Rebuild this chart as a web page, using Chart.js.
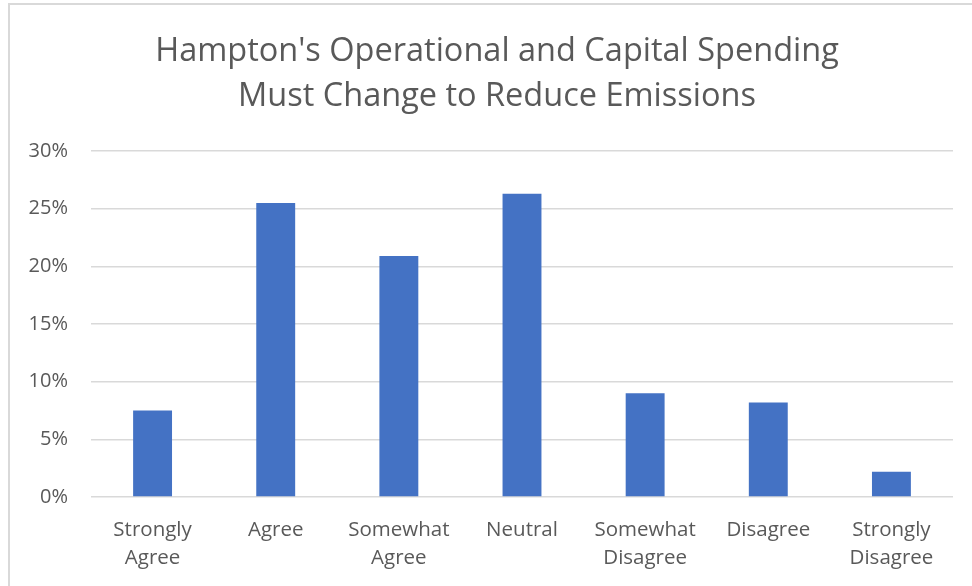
<!DOCTYPE html>
<html>
<head>
<meta charset="utf-8">
<script src="https://cdn.jsdelivr.net/npm/chart.js@4/dist/chart.umd.min.js"></script>
<style>
  html, body { margin: 0; padding: 0; background: #ffffff; }
  #wrap { position: relative; width: 972px; height: 586px; overflow: hidden; }
  #frame { position: absolute; left: 8px; top: 3px; width: 1200px; height: 800px;
           border-top: 2px solid #d9d9d9; border-left: 2px solid #d9d9d9; box-sizing: border-box; }
  canvas { position: absolute; left: 0; top: 0; }
</style>
</head>
<body>
<div id="wrap">
  <div id="frame"></div>
  <canvas id="c" width="972" height="586"></canvas>
</div>
<script>
const titleLines = ["Hampton's Operational and Capital Spending", "Must Change to Reduce Emissions"];
const categories = [["Strongly", "Agree"], "Agree", ["Somewhat", "Agree"], "Neutral", ["Somewhat", "Disagree"], "Disagree", ["Strongly", "Disagree"]];
const values = [7.5, 25.5, 20.9, 26.3, 9.0, 8.2, 2.2];
const yMin = 0, yMax = 30, yStep = 5;

const FONT = "'Open Sans', sans-serif";
const TEXT = '#595959';

// Title is centred on the (wider) chart frame, not on the canvas
const frameTitle = {
  id: 'frameTitle',
  afterDraw(chart) {
    const ctx = chart.ctx;
    ctx.save();
    ctx.fillStyle = TEXT;
    ctx.font = "normal 32.5px " + FONT;
    ctx.textAlign = 'center';
    ctx.textBaseline = 'middle';
    const cx = 497, y0 = 51.5, lh = 45;
    titleLines.forEach((t, i) => ctx.fillText(t, cx, y0 + i * lh));
    ctx.restore();
  }
};

new Chart(document.getElementById('c'), {
  type: 'bar',
  data: {
    labels: categories,
    datasets: [{
      data: values,
      backgroundColor: '#4472C4',
      borderWidth: 0,
      barPercentage: 0.316,
      categoryPercentage: 1.0
    }]
  },
  options: {
    responsive: false,
    animation: false,
    layout: { padding: { left: 0, right: 19, top: 151, bottom: 0 } },
    plugins: {
      legend: { display: false },
      tooltip: { enabled: false },
      title: { display: false }
    },
    scales: {
      x: {
        grid: { display: false },
        border: { display: false },
        ticks: {
          color: TEXT,
          font: { family: FONT, size: 20.5, lineHeight: 1.37 },
          padding: 11,
          maxRotation: 0,
          autoSkip: false
        },
        afterFit: (s) => { s.height = 89; }
      },
      y: {
        min: yMin, max: yMax,
        grid: { color: '#d9d9d9', lineWidth: 1.5, drawTicks: false },
        border: { display: false },
        ticks: {
          stepSize: yStep,
          color: TEXT,
          font: { family: FONT, size: 20 },
          padding: 23,
          callback: (v) => v + '%'
        },
        afterFit: (s) => { s.width = 91; }
      }
    }
  },
  plugins: [frameTitle]
});
</script>
</body>
</html>
